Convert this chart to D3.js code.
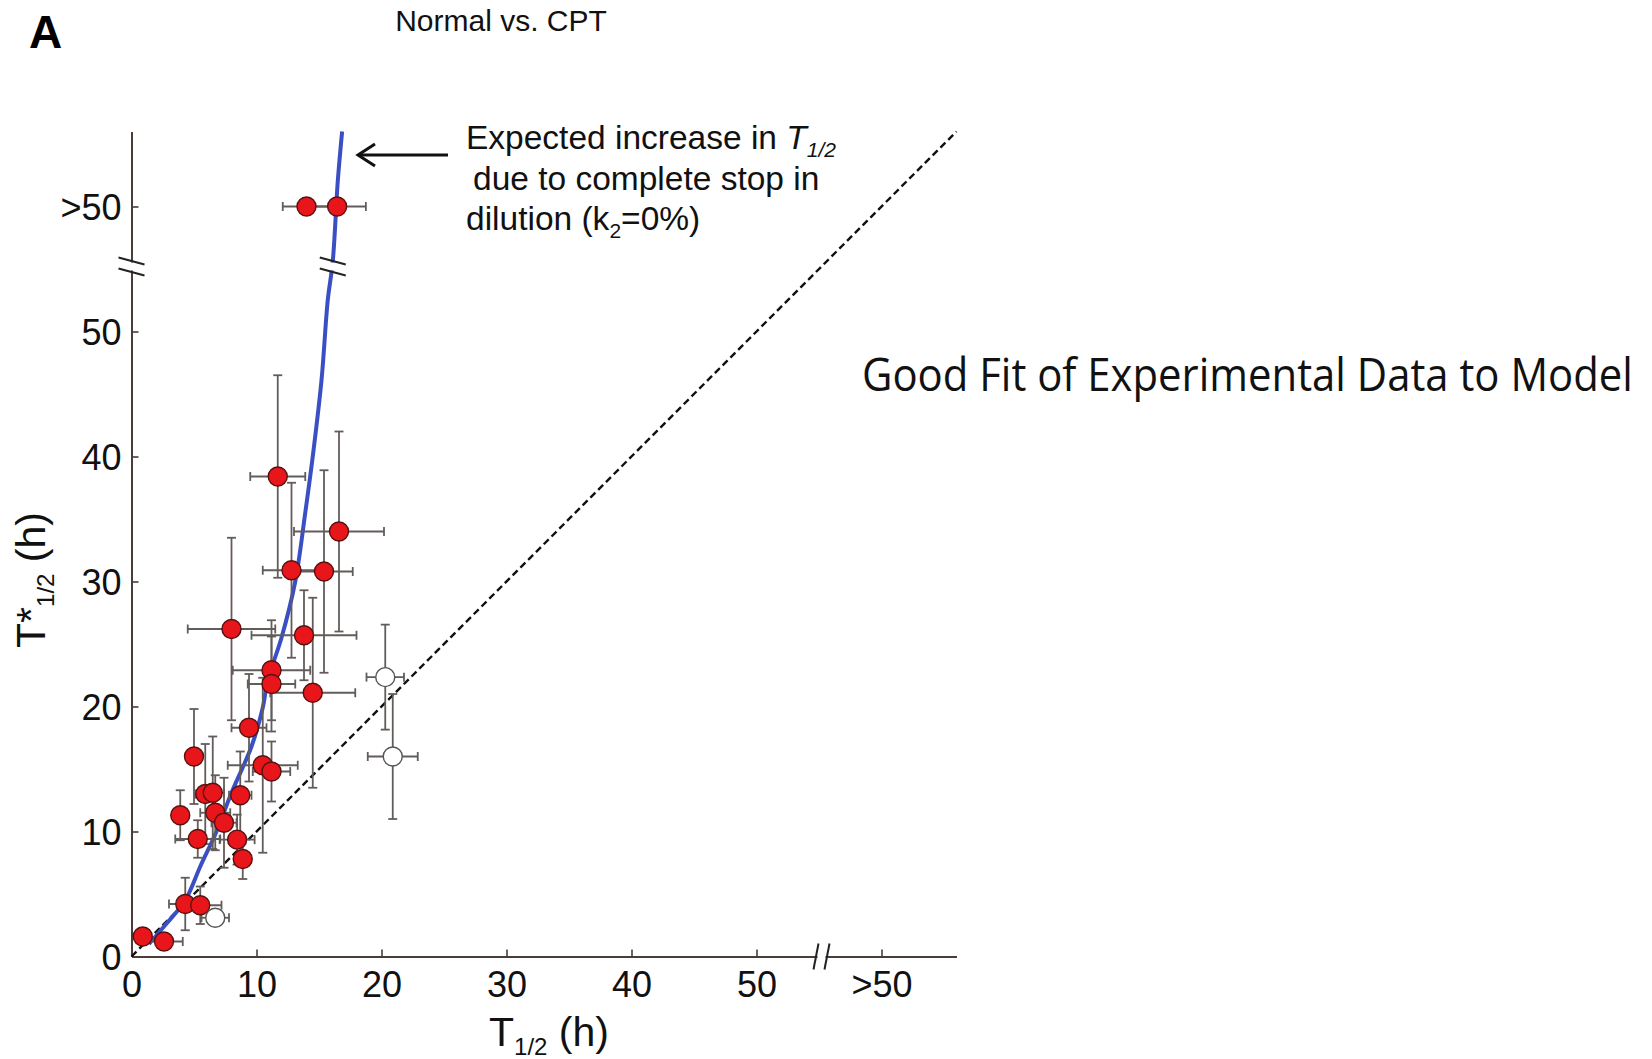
<!DOCTYPE html>
<html>
<head>
<meta charset="utf-8">
<script src="https://cdn.jsdelivr.net/npm/d3@7"></script>
<style>
  body { margin: 0; background: white; }
  text { font-family: "Liberation Sans", Arial, sans-serif; }
</style>
</head>
<body>
<div id="chart"></div>
<script>
let width = 1652;
let height = 1059;

// filled points: T1/2, T*1/2 and their error half-widths (60 = ">50")
let tHalf  = [0.9, 2.6, 4.3, 5.5, 3.9, 5.3, 5.0, 5.9, 6.5, 6.7, 7.4, 8.45, 8.9, 8.7, 9.4, 10.5, 11.2, 11.2, 11.2, 14.5, 8.0, 13.8, 12.8, 15.4, 16.6, 11.7, 14.0, 16.45];
let tStar  = [1.6, 1.2, 4.2, 4.1, 11.3, 9.4, 16.0, 13.0, 13.1, 11.5, 10.7, 9.35, 7.8, 12.9, 18.3, 15.3, 14.8, 22.9, 21.8, 21.1, 26.2, 25.7, 30.9, 30.8, 34.0, 38.4, 60, 60];
let xErr   = [0, 1.5, 1.3, 1.7, 0.5, 1.8, 0.5, 0.8, 0.9, 1.2, 1.0, 1.4, 0.6, 0.9, 1.4, 2.8, 1.5, 3.1, 1.9, 3.4, 3.5, 4.2, 2.3, 2.3, 3.6, 2.2, 1.9, 2.3];
let yErr   = [0, 0, 2.1, 1.5, 2.0, 1.5, 3.8, 4.0, 4.5, 3.0, 3.6, 2.0, 1.6, 3.5, 4.3, 7.0, 2.4, 4.0, 3.8, 7.6, 7.3, 3.6, 7.0, 8.1, 8.0, 8.1, 0, 0];

// open points
let openT     = [6.7, 20.3, 20.9];
let openTStar = [3.1, 22.35, 16.0];
let openXErr  = [1.1, 1.5, 2.0];
let openYErr  = [0.6, 4.2, 5.0];

// expected curve (k2 = 0%)
let curveT     = [1.4, 2.6, 4.3, 5.5, 6.8, 8.0, 9.6, 10.5, 10.9, 12.0, 13.1, 13.9, 14.5, 15.2, 15.7, 16.1, 16.5, 16.85];
let curveTStar = [1.0, 2.4, 4.5, 7.2, 10.0, 13.1, 16.8, 19.9, 22.1, 25.5, 30.0, 35.5, 40.0, 46.1, 52.5, 55.6, 62.0, 66.0];

let tickValues = [0, 10, 20, 30, 40, 50, 60];
let tickLabels = ["0", "10", "20", "30", "40", "50", ">50"];
let breakAt = 55.2;

let axisColor = "#4a3d38";

let svg = d3.select("#chart")
	.append("svg")
	.attr("width", width)
	.attr("height", height)
	.style("background-color", "white");

let x = d3.scaleLinear().domain([0, 66]).range([131.5, 956.5]);
let y = d3.scaleLinear().domain([0, 66]).range([956.5, 131.5]);

/*---------------- axes ----------------*/

let xAxis = svg.append("g")
	.attr("transform", "translate(0," + y(0) + ")")
	.call(d3.axisBottom(x).tickValues(tickValues)
		.tickFormat(function(d, i){return tickLabels[i];})
		.tickSizeInner(-7).tickSizeOuter(0).tickPadding(15));

let yAxis = svg.append("g")
	.attr("transform", "translate(" + x(0) + ",0)")
	.call(d3.axisLeft(y).tickValues(tickValues)
		.tickFormat(function(d, i){return tickLabels[i];})
		.tickSizeInner(-7).tickSizeOuter(0).tickPadding(10));

[xAxis, yAxis].forEach(function(a){
	a.select(".domain").attr("stroke", axisColor).attr("stroke-width", 2);
	a.selectAll(".tick line").attr("stroke", axisColor).attr("stroke-width", 1.6);
	a.selectAll(".tick text").attr("fill", "#111").style("font-size", "36px")
		.style("font-family", "'Liberation Sans', Arial, sans-serif");
});
xAxis.selectAll(".tick").filter(function(d){return d === 0;}).select("line").remove();
yAxis.selectAll(".tick").filter(function(d){return d === 0;}).select("line").remove();
yAxis.selectAll(".tick text").attr("dy", "0.36em");

/*---------------- reference lines ----------------*/

svg.append("line")
	.attr("x1", x(0)).attr("y1", y(0))
	.attr("x2", x(66)).attr("y2", y(66))
	.attr("stroke", "#111")
	.attr("stroke-width", 2.4)
	.attr("stroke-dasharray", "7,4");

let curveData = curveT.map(function(d, i){return [d, curveTStar[i]];});
let line = d3.line()
	.x(function(d){return x(d[0]);})
	.y(function(d){return y(d[1]);})
	.curve(d3.curveCatmullRom);

svg.append("path")
	.attr("d", line(curveData))
	.attr("fill", "none")
	.attr("stroke", "#3b4fc4")
	.attr("stroke-width", 4);

/*---------------- break marks ----------------*/

function breakMark(cx, cy, vertical){
	let g = svg.append("g").attr("transform", "translate(" + cx + "," + cy + ")");
	if (vertical) {
		g.append("rect").attr("x", -4).attr("y", -14).attr("width", 8).attr("height", 28).attr("fill", "white");
		g.append("line").attr("x1", -8).attr("y1", 13).attr("x2", -3).attr("y2", -13);
		g.append("line").attr("x1", 3).attr("y1", 13).attr("x2", 8).attr("y2", -13);
	} else {
		g.append("rect").attr("x", -14).attr("y", -4).attr("width", 28).attr("height", 8).attr("fill", "white");
		g.append("line").attr("x1", -13).attr("y1", -9).attr("x2", 13).attr("y2", -2);
		g.append("line").attr("x1", -13).attr("y1", 2).attr("x2", 13).attr("y2", 9);
	}
	g.selectAll("line").attr("stroke", "#222").attr("stroke-width", 2);
}
breakMark(x(breakAt), y(0), true);
breakMark(x(0), y(breakAt), false);
breakMark(x(16.1), y(breakAt), false);

/*---------------- error bars ----------------*/

let allPts = tHalf.map(function(d, i){return {t: d, s: tStar[i], xe: xErr[i], ye: yErr[i], open: false};})
	.concat(openT.map(function(d, i){return {t: d, s: openTStar[i], xe: openXErr[i], ye: openYErr[i], open: true};}));

let bars = svg.append("g").attr("stroke", "#625c5a").attr("stroke-width", 1.8);
let cap = 4.5;
allPts.forEach(function(p){
	if (p.xe > 0) {
		bars.append("line").attr("x1", x(p.t - p.xe)).attr("x2", x(p.t + p.xe)).attr("y1", y(p.s)).attr("y2", y(p.s));
		[p.t - p.xe, p.t + p.xe].forEach(function(v){
			bars.append("line").attr("x1", x(v)).attr("x2", x(v)).attr("y1", y(p.s) - cap).attr("y2", y(p.s) + cap);
		});
	}
	if (p.ye > 0) {
		bars.append("line").attr("x1", x(p.t)).attr("x2", x(p.t)).attr("y1", y(p.s - p.ye)).attr("y2", y(p.s + p.ye));
		[p.s - p.ye, p.s + p.ye].forEach(function(v){
			bars.append("line").attr("y1", y(v)).attr("y2", y(v)).attr("x1", x(p.t) - cap).attr("x2", x(p.t) + cap);
		});
	}
});

/*---------------- points ----------------*/

svg.append("g").selectAll("circle")
	.data(allPts)
	.enter()
	.append("circle")
	.attr("cx", function(d){return x(d.t);})
	.attr("cy", function(d){return y(d.s);})
	.attr("r", 9.5)
	.attr("fill", function(d){return d.open ? "white" : "#e8161a";})
	.attr("stroke", function(d){return d.open ? "#555" : "#5a1010";})
	.attr("stroke-width", 1.4);

/*---------------- titles ----------------*/

svg.append("text").attr("x", 29).attr("y", 48)
	.style("font-size", "46px").style("font-weight", "bold").text("A");

svg.append("text").attr("x", 501).attr("y", 31).attr("text-anchor", "middle")
	.style("font-size", "30px").attr("fill", "#111").text("Normal vs. CPT");

let xTitle = svg.append("text").attr("x", 549).attr("y", 1046).attr("text-anchor", "middle")
	.style("font-size", "41px").attr("fill", "#111");
xTitle.append("tspan").text("T");
xTitle.append("tspan").attr("dy", 9).style("font-size", "24px").text("1/2");
xTitle.append("tspan").attr("dy", -9).text(" (h)");

let yTitle = svg.append("text").attr("transform", "translate(45,580) rotate(-90)").attr("text-anchor", "middle")
	.style("font-size", "41px").attr("fill", "#111");
yTitle.append("tspan").text("T*");
yTitle.append("tspan").attr("dy", 9).style("font-size", "24px").text("1/2");
yTitle.append("tspan").attr("dy", -9).text(" (h)");

/*---------------- annotation ----------------*/

let note = svg.append("g").style("font-size", "33.5px").attr("fill", "#111");
let l1 = note.append("text").attr("x", 466).attr("y", 149);
l1.append("tspan").text("Expected increase in ");
l1.append("tspan").style("font-style", "italic").text("T");
l1.append("tspan").attr("dy", 8).style("font-style", "italic").style("font-size", "21px").text("1/2");
note.append("text").attr("x", 473).attr("y", 190).text("due to complete stop in");
let l3 = note.append("text").attr("x", 466).attr("y", 230);
l3.append("tspan").text("dilution (k");
l3.append("tspan").attr("dy", 8).style("font-size", "21px").text("2");
l3.append("tspan").attr("dy", -8).text("=0%)");

let arrow = svg.append("g").attr("stroke", "#111").attr("stroke-width", 3).attr("fill", "none");
arrow.append("line").attr("x1", 448).attr("y1", 155).attr("x2", 358).attr("y2", 155);
arrow.append("path").attr("d", "M375,144 L358,155 L375,166");

let fit = svg.append("text")
	.style("font-family", "'Open Sans', 'Noto Sans', sans-serif")
	.style("font-size", "44px").attr("fill", "#111")
	.text("Good Fit of Experimental Data to Model");
let fitLen = fit.node().getComputedTextLength();
fit.attr("transform", "translate(862,391) scale(" + (771 / fitLen) + ",1.04)");
</script>
</body>
</html>
